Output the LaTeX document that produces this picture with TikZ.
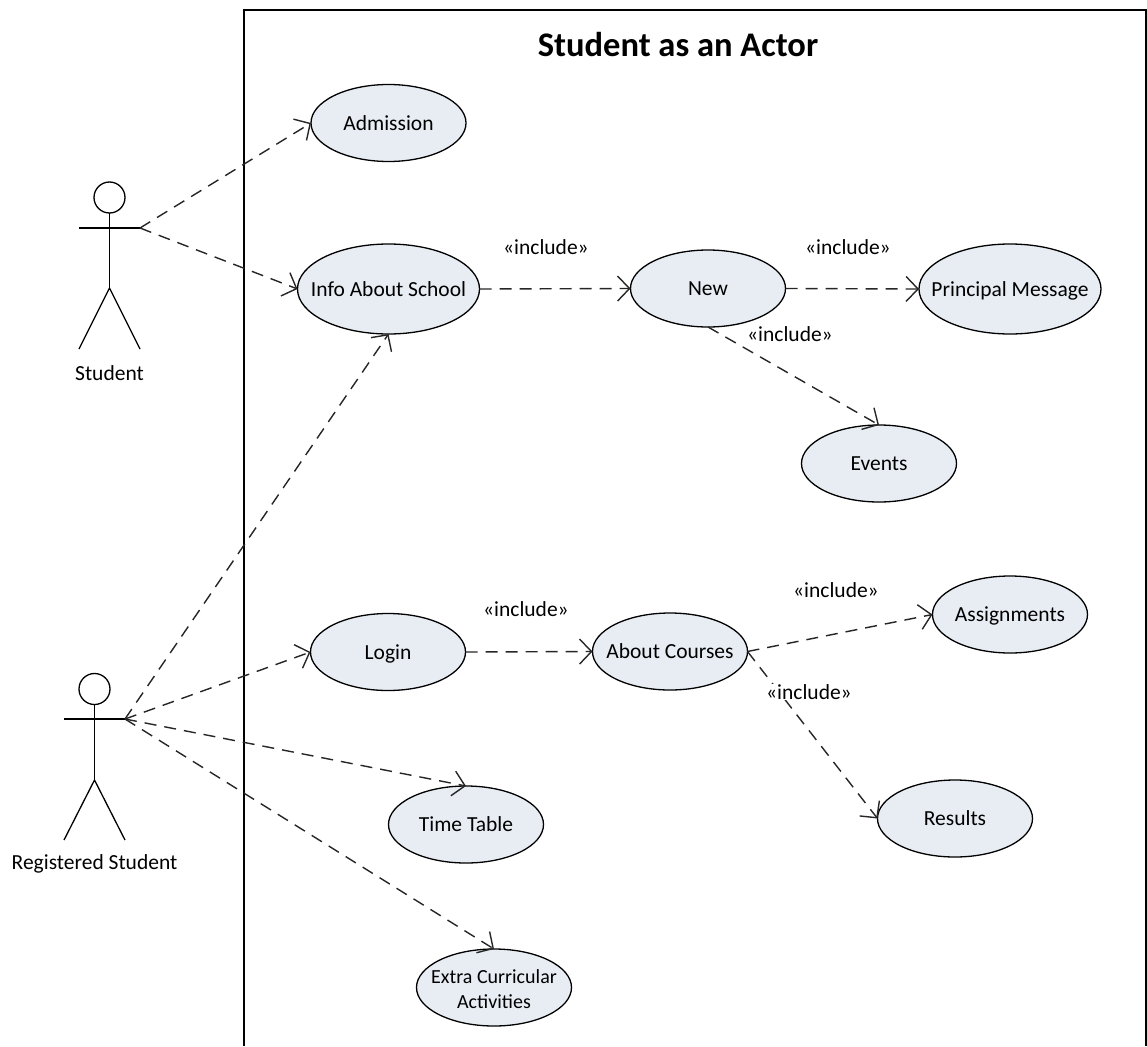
\documentclass[tikz,border=0pt]{standalone}
\usepackage{fontspec}
\setmainfont{Carlito}
\usetikzlibrary{arrows.meta,shapes.geometric}

\tikzset{
  usecase/.style={draw, ellipse, fill=caseblue, line width=1.3pt, inner xsep=-40pt, inner ysep=-10pt,
    outer sep=0pt, minimum width=155pt, minimum height=77pt, align=center},
  singleline/.style={usecase, text height=14pt, text depth=0pt},
  widecase/.style={singleline, minimum width=182pt, minimum height=90pt},
  relation/.style={draw=black!85, dashed, line width=1.4pt, dash pattern=on 12pt off 8pt,
    -{Straight Barb[length=12pt,width=25pt]}},
  stereotype/.style={fill=white, inner sep=0.5pt},
  actorline/.style={line width=1.3pt},
  actorname/.style={inner sep=0pt}
}
\definecolor{caseblue}{HTML}{E8EDF4}

\begin{document}
\begin{tikzpicture}[x=1pt, y=-1pt, font=\fontsize{21.5}{26}\selectfont]

    \useasboundingbox (0, 0) rectangle (1147, 1046);

    % System frame
    \draw[line width=2.4pt] (244, 1046) -- (244, 10) -- (1146, 10) -- (1146, 1046);
    \node[font=\fontsize{34.5}{41}\selectfont\bfseries] (title) at (678, 45) {Student as an Actor};

    % Student
    \draw[actorline] (109.5, 197.5) circle (15.5);
    \draw[actorline] (109.5, 213) -- (109.5, 288);
    \draw[actorline] (79, 228) -- (140, 228);
    \draw[actorline] (79, 349) -- (109.5, 288) -- (140, 349);
    \coordinate (studenthand) at (140, 228);
    \node[actorname] (student) at (109.5, 373) {Student};

    % Registered student
    \draw[actorline] (94.5, 689) circle (15.5);
    \draw[actorline] (94.5, 704.5) -- (94.5, 780);
    \draw[actorline] (64, 719) -- (125, 719);
    \draw[actorline] (64, 840) -- (94.5, 780) -- (125, 840);
    \coordinate (registeredhand) at (125, 719);
    \node[actorname] (registered) at (94.5, 864) {Registered Student};

    % Use cases
    \node[singleline] (admission) at (388.5, 123) {Admission};
    \node[widecase] (info) at (388.5, 289) {Info About School};
    \node[singleline] (new) at (708, 288.5) {New};
    \node[widecase] (principal) at (1010, 289) {Principal Message};
    \node[singleline] (events) at (879, 463.5) {Events};
    \node[singleline] (login) at (388, 652) {Login};
    \node[singleline] (courses) at (670, 651.5) {About Courses};
    \node[singleline] (assignments) at (1010, 614.5) {Assignments};
    \node[singleline] (results) at (955, 818.5) {Results};
    \node[singleline] (timetable) at (466, 824.5) {Time Table};
    \node[usecase, font=\fontsize{20}{25.5}\selectfont] (extra) at (494, 987.5)
      {\rule{0pt}{17pt}Extra Curricular\\Activities};

    % Actor relations
    \draw[relation] (studenthand) -- (admission.west);
    \draw[relation] (studenthand) -- (info.west);
    \draw[relation] (registeredhand) -- (info.south);
    \draw[relation] (registeredhand) -- (login.west);
    \draw[relation] (registeredhand) -- (timetable.north);
    \draw[relation] (registeredhand) -- (extra.north);

    % Include relations
    \draw[relation] (info.east) -- (new.west);
    \draw[relation] (new.east) -- (principal.west);
    \draw[relation] (new.south) -- (events.north);
    \draw[relation] (login.east) -- (courses.west);
    \draw[relation] (courses.east) -- (assignments.west);
    \draw[relation] (courses.east) -- (results.west);

    % Stereotype labels
    \node[stereotype] (includea) at (546, 247) {«include»};
    \node[stereotype] (includeb) at (848, 247) {«include»};
    \node[stereotype] (includec) at (790, 334) {«include»};
    \node[stereotype] (included) at (526, 609) {«include»};
    \node[stereotype] (includee) at (836, 590) {«include»};
    \node[stereotype] (includef) at (809, 692) {«include»};

  \end{tikzpicture}
\end{document}
